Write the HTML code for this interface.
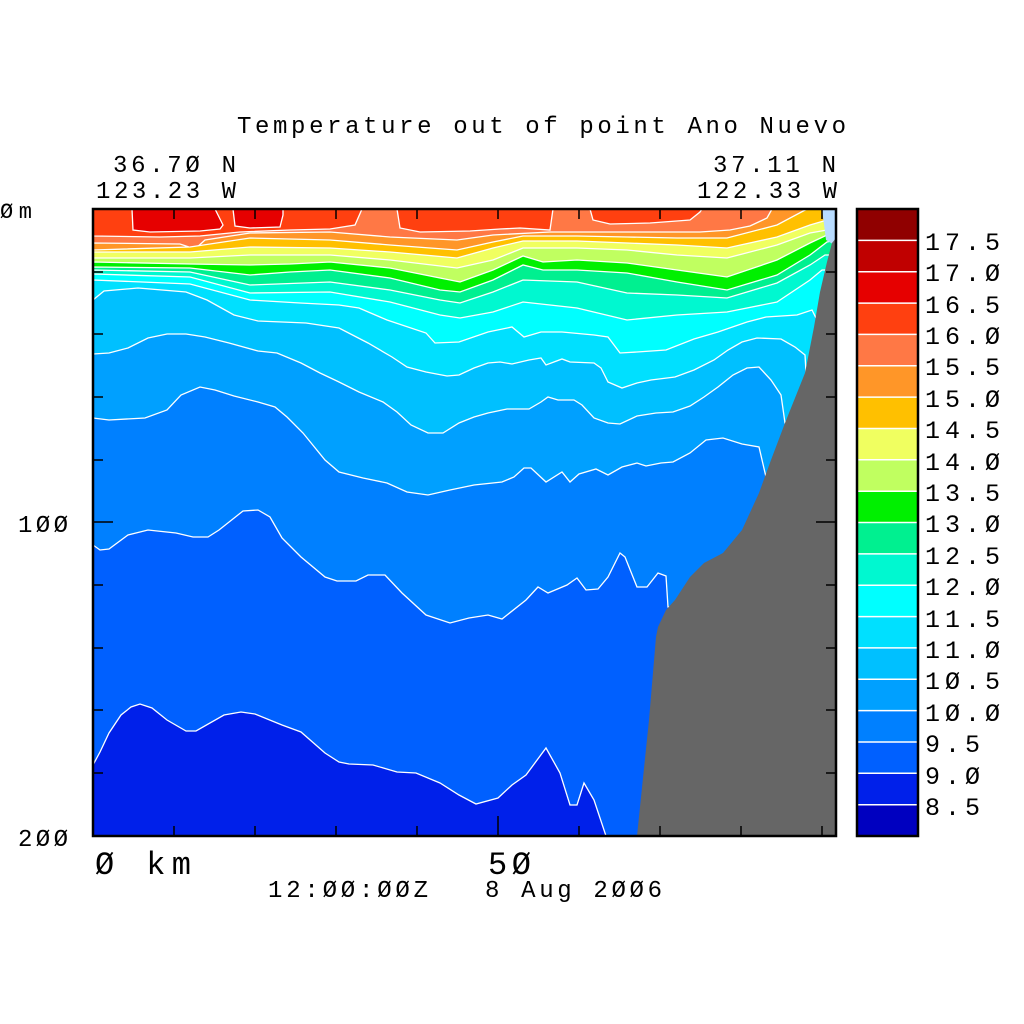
<!DOCTYPE html>
<html><head><meta charset="utf-8"><style>
html,body{margin:0;padding:0;background:#fff;}
svg{display:block;}
text{font-family:"Liberation Mono","DejaVu Sans Mono",monospace;fill:#000;}
</style></head><body>
<svg width="1024" height="1024" viewBox="0 0 1024 1024" xmlns="http://www.w3.org/2000/svg">
<rect width="1024" height="1024" fill="#fff"/>
<defs><clipPath id="pc"><rect x="93" y="209" width="743" height="627"/></clipPath></defs>
<g clip-path="url(#pc)" stroke="#fff" stroke-width="1.3">
<rect x="93" y="209" width="743" height="627" fill="#ff7845" stroke="none"/>
<polygon fill="#ff4010" points="93,209 93,236 160,237 200,236 240,232 290,230 330,229 355,225 362,209"/>
<polygon fill="#ff4010" points="397,209 400,228 420,232 470,231 500,229 520,228 550,230 553,209"/>
<polygon fill="#ff4010" points="590,209 593,220 610,224 650,223 690,220 700,212 702,209"/>
<polygon fill="#e60000" points="132,209 133,230 150,232 200,231 220,229 223,225 215,209"/>
<polygon fill="#e60000" points="233,209 235,226 250,228 280,227 283,215 283,209"/>
<polygon fill="#ff9628" points="93,243 180,244 195,249 205,240 250,233 330,232 390,237 457,240 493,235 550,232 600,232 650,232 700,232 730,230 750,226 767,218 772,209 836,209 836,836 93,836"/>
<polygon fill="#ffc000" points="93,250 190,247 250,238 330,240 390,245 457,250 493,242 523,236 577,236 627,237 677,238 727,238 777,225 807,209 836,209 836,836 93,836"/>
<polygon fill="#f0ff60" points="93,252 190,252 250,247 330,248 390,252 457,258 493,248 523,241 577,241 627,243 677,245 727,248 777,237 810,225 827,220 836,219 836,836 93,836"/>
<polygon fill="#c0ff60" points="93,258 190,258 250,255 330,255 390,260 457,268 493,260 523,248 577,248 627,250 677,255 727,258 777,245 810,233 827,230 836,229 836,836 93,836"/>
<polygon fill="#00f000" points="93,262 190,264 250,265 290,264 330,262 390,268 440,278 460,282 493,270 523,256 543,262 577,260 627,263 677,270 727,277 777,260 810,243 827,235 836,233 836,836 93,836"/>
<polygon fill="#00f090" points="93,267 190,268 250,275 290,272 330,270 390,278 440,290 460,292 493,280 523,265 543,270 577,270 627,273 677,282 727,290 777,275 810,255 827,242 836,240 836,836 93,836"/>
<polygon fill="#00f8d0" points="93,270 190,272 250,285 330,282 390,290 440,300 460,303 493,292 523,280 577,282 627,293 677,295 727,298 777,283 810,265 825,255 836,255 836,836 93,836"/>
<polygon fill="#00ffff" points="93,274 190,277 250,293 330,292 390,302 440,315 460,318 493,312 523,302 577,308 627,320 677,315 727,312 777,302 810,280 822,270 836,270 836,836 93,836"/>
<polygon fill="#00e0ff" points="93,280 190,284 250,300 300,303 339,305 359,308 387,320 426,333 435,343 459,342 488,332 512,327 524,337 541,332 562,332 594,335 608,337 620,353 637,352 666,350 694,339 718,332 747,322 766,317 797,315 812,310 817,320 836,320 836,836 93,836"/>
<polygon fill="#00c0ff" points="93,300 104,291 138,288 186,292 207,300 234,315 258,321 306,323 339,328 368,343 392,357 407,367 426,372 447,376 459,375 474,368 488,363 500,362 512,364 529,360 541,358 546,365 562,359 570,362 594,363 601,368 608,382 622,388 637,383 651,380 675,377 694,370 714,360 728,350 742,342 757,338 781,339 795,347 805,355 806,372 836,372 836,836 93,836"/>
<polygon fill="#00a0ff" points="93,354 109,353 128,348 148,338 167,334 186,334 205,337 229,343 258,351 277,353 301,363 320,373 339,382 359,392 383,402 397,412 411,425 428,433 443,433 459,423 474,417 488,413 507,409 529,409 541,402 548,397 558,400 574,400 582,405 594,418 608,423 620,424 637,416 656,413 673,412 690,406 704,397 718,387 733,375 747,368 759,367 771,380 781,395 785,423 836,423 836,836 93,836"/>
<polygon fill="#0080ff" points="93,418 109,420 145,418 167,410 181,395 200,387 215,390 234,396 258,402 275,407 287,417 303,433 325,460 339,472 363,478 387,483 407,492 428,495 450,490 474,485 502,482 514,477 524,468 531,468 546,482 562,472 570,482 579,474 596,469 608,475 622,467 637,463 646,466 661,463 673,462 690,453 706,440 723,438 742,444 759,447 766,477 836,477 836,836 93,836"/>
<polygon fill="#0060ff" points="93,545 100,550 109,549 128,535 148,530 176,533 193,537 208,537 219,530 243,511 258,510 270,517 282,538 301,557 325,577 337,581 356,581 368,575 385,575 402,593 426,615 450,623 469,618 488,615 502,619 526,600 538,587 548,593 567,585 577,578 586,590 598,589 608,577 620,553 625,557 637,587 647,587 658,573 666,576 668,607 680,607 836,607 836,836 93,836"/>
<polygon fill="#0020ea" points="93,765 100,752 109,733 121,715 131,707 140,704 152,708 167,720 186,731 196,731 224,715 241,712 255,714 282,725 301,732 325,753 339,762 349,764 373,765 397,772 416,773 440,783 459,795 476,804 498,798 512,785 526,775 546,748 560,773 570,805 577,805 584,783 594,800 606,836 93,836"/>
<polygon fill="#b8dcff" stroke="none" points="822,209 836,209 836,246 826,240"/>
<polygon fill="#666" stroke="none" points="836,238 832,243 827,262 820,292 814,327 805,373 785,423 771,460 759,493 742,530 723,553 704,563 690,577 675,600 666,610 658,627 656,637 649,720 637,836 836,836"/>
</g>
<g stroke="#000" stroke-width="1.5">
<path d="M93,272h10M93,334h10M93,397h10M93,460h10M93,522h20M93,585h10M93,648h10M93,710h10M93,773h10"/>
<path d="M836,272h-10M836,334h-10M836,397h-10M836,460h-10M836,522h-20M836,585h-10M836,648h-10M836,710h-10M836,773h-10"/>
<path d="M174,836v-10M255,836v-10M336,836v-10M417,836v-10M498,836v-20M579,836v-10M660,836v-10M741,836v-10M822,836v-10"/>
<path d="M174,209v10M255,209v10M336,209v10M417,209v10M498,209v10M579,209v10M660,209v10M741,209v10M822,209v10"/>
</g>
<rect x="93" y="209" width="743" height="627" fill="none" stroke="#000" stroke-width="2.5"/>
<g>
<rect x="857" y="209.0" width="61" height="31.4" fill="#900000"/>
<rect x="857" y="240.4" width="61" height="31.4" fill="#c00000"/>
<rect x="857" y="271.7" width="61" height="31.4" fill="#e60000"/>
<rect x="857" y="303.1" width="61" height="31.4" fill="#ff4010"/>
<rect x="857" y="334.4" width="61" height="31.4" fill="#ff7845"/>
<rect x="857" y="365.8" width="61" height="31.4" fill="#ff9628"/>
<rect x="857" y="397.1" width="61" height="31.4" fill="#ffc000"/>
<rect x="857" y="428.5" width="61" height="31.4" fill="#f0ff60"/>
<rect x="857" y="459.8" width="61" height="31.4" fill="#c0ff60"/>
<rect x="857" y="491.2" width="61" height="31.4" fill="#00f000"/>
<rect x="857" y="522.5" width="61" height="31.4" fill="#00f090"/>
<rect x="857" y="553.9" width="61" height="31.4" fill="#00f8d0"/>
<rect x="857" y="585.2" width="61" height="31.4" fill="#00ffff"/>
<rect x="857" y="616.6" width="61" height="31.4" fill="#00e0ff"/>
<rect x="857" y="647.9" width="61" height="31.4" fill="#00c0ff"/>
<rect x="857" y="679.3" width="61" height="31.4" fill="#00a0ff"/>
<rect x="857" y="710.6" width="61" height="31.4" fill="#0080ff"/>
<rect x="857" y="742.0" width="61" height="31.4" fill="#0060ff"/>
<rect x="857" y="773.3" width="61" height="31.4" fill="#0020ea"/>
<rect x="857" y="804.7" width="61" height="31.3" fill="#0000c0"/>
<path stroke="#fff" stroke-width="1.5" d="M857,240.4h61M857,271.7h61M857,303.1h61M857,334.4h61M857,365.8h61M857,397.1h61M857,428.5h61M857,459.8h61M857,491.2h61M857,522.5h61M857,553.9h61M857,585.2h61M857,616.6h61M857,647.9h61M857,679.3h61M857,710.6h61M857,742h61M857,773.3h61M857,804.7h61"/>
<rect x="857" y="209" width="61" height="627" fill="none" stroke="#000" stroke-width="2.5"/>
</g>
<g font-size="25">
<text x="925" y="250" textLength="75" lengthAdjust="spacing">17.5</text>
<text x="925" y="281" textLength="75" lengthAdjust="spacing">17.Ø</text>
<text x="925" y="313" textLength="75" lengthAdjust="spacing">16.5</text>
<text x="925" y="344" textLength="75" lengthAdjust="spacing">16.Ø</text>
<text x="925" y="375" textLength="75" lengthAdjust="spacing">15.5</text>
<text x="925" y="407" textLength="75" lengthAdjust="spacing">15.Ø</text>
<text x="925" y="438" textLength="75" lengthAdjust="spacing">14.5</text>
<text x="925" y="470" textLength="75" lengthAdjust="spacing">14.Ø</text>
<text x="925" y="501" textLength="75" lengthAdjust="spacing">13.5</text>
<text x="925" y="532" textLength="75" lengthAdjust="spacing">13.Ø</text>
<text x="925" y="564" textLength="75" lengthAdjust="spacing">12.5</text>
<text x="925" y="595" textLength="75" lengthAdjust="spacing">12.Ø</text>
<text x="925" y="627" textLength="75" lengthAdjust="spacing">11.5</text>
<text x="925" y="658" textLength="75" lengthAdjust="spacing">11.Ø</text>
<text x="925" y="689" textLength="75" lengthAdjust="spacing">1Ø.5</text>
<text x="925" y="721" textLength="75" lengthAdjust="spacing">1Ø.Ø</text>
<text x="925" y="752" textLength="55" lengthAdjust="spacing">9.5</text>
<text x="925" y="784" textLength="55" lengthAdjust="spacing">9.Ø</text>
<text x="925" y="815" textLength="55" lengthAdjust="spacing">8.5</text>
</g>
<g font-size="24">
<text x="237" y="133" textLength="609" lengthAdjust="spacing">Temperature out of point Ano Nuevo</text>
<text x="113" y="172" textLength="123" lengthAdjust="spacing">36.7Ø N</text>
<text x="96" y="198" textLength="140" lengthAdjust="spacing">123.23 W</text>
<text x="713" y="172" textLength="123" lengthAdjust="spacing">37.11 N</text>
<text x="697" y="198" textLength="140" lengthAdjust="spacing">122.33 W</text>
<text x="0" y="218" font-size="22" textLength="32" lengthAdjust="spacing">Øm</text>
<text x="18" y="532" textLength="50" lengthAdjust="spacing">1ØØ</text>
<text x="18" y="846" textLength="50" lengthAdjust="spacing">2ØØ</text>
<text x="268" y="897" textLength="160" lengthAdjust="spacing">12:ØØ:ØØZ</text>
<text x="485" y="897" textLength="177" lengthAdjust="spacing">8 Aug 2ØØ6</text>
</g>
<g font-size="32">
<text x="95" y="874" textLength="96" lengthAdjust="spacing">Ø km</text>
<text x="488" y="874" textLength="43" lengthAdjust="spacing">5Ø</text>
</g>
</svg>
</body></html>
